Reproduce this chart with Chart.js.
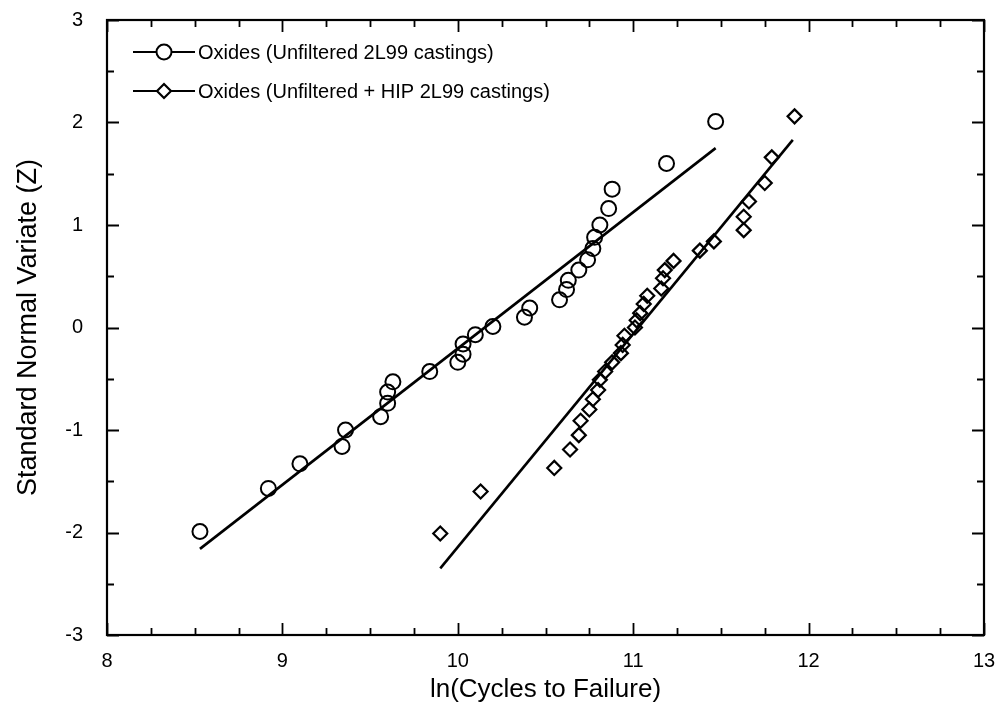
<!DOCTYPE html>
<html>
<head>
<meta charset="utf-8">
<script src="https://cdn.jsdelivr.net/npm/chart.js@4/dist/chart.umd.min.js"></script>
<style>
  html, body { margin: 0; padding: 0; background: #fff; }
  #wrap { width: 1005px; height: 713px; }
</style>
</head>
<body>
<div id="wrap"><canvas id="probChart" width="1005" height="713"></canvas></div>
<script>
// ─── Data ───
const unfilteredX = [8.53, 8.92, 9.10, 9.34, 9.36, 9.56, 9.60, 9.60, 9.63, 9.84, 10.00, 10.03, 10.03, 10.10, 10.20,
  10.38, 10.41, 10.58, 10.62, 10.63, 10.69, 10.74, 10.77, 10.78, 10.81, 10.86, 10.88, 11.19, 11.47];
const unfilteredZ = [-1.99, -1.57, -1.33, -1.16, -1.00, -0.87, -0.74, -0.63, -0.53, -0.43, -0.34, -0.26, -0.16, -0.07, 0.01,
  0.10, 0.19, 0.27, 0.37, 0.46, 0.56, 0.66, 0.77, 0.88, 1.00, 1.16, 1.35, 1.60, 2.01];

const hipX = [9.90, 10.13, 10.55, 10.64, 10.69, 10.70, 10.75, 10.77, 10.80, 10.81, 10.84, 10.88, 10.93, 10.94, 10.95,
  11.01, 11.02, 11.04, 11.06, 11.08, 11.16, 11.17, 11.18, 11.23, 11.38, 11.46, 11.63, 11.63, 11.66, 11.75, 11.79, 11.92];
const hipZ = [-2.01, -1.60, -1.37, -1.19, -1.05, -0.91, -0.80, -0.70, -0.61, -0.51, -0.43, -0.34, -0.25, -0.17, -0.08,
  0.00, 0.07, 0.14, 0.23, 0.31, 0.38, 0.48, 0.56, 0.65, 0.75, 0.84, 0.95, 1.08, 1.23, 1.41, 1.66, 2.06];

// fitted lines (end points)
const unfilteredFitX = [8.53, 11.47];
const unfilteredFitZ = [-2.16, 1.75];
const hipFitX = [9.90, 11.91];
const hipFitZ = [-2.35, 1.83];

const xTicks = [8, 9, 10, 11, 12, 13];
const zTicks = [-3, -2, -1, 0, 1, 2, 3];

const seriesLabels = ['Oxides (Unfiltered 2L99 castings)', 'Oxides (Unfiltered + HIP 2L99 castings)'];

const FONT = '"Liberation Sans", Arial, Helvetica, sans-serif';
const toPts = (xs, ys) => xs.map((x, i) => ({ x: x, y: ys[i] }));

// ─── Inward ticks on all four sides + frame + legend ───
const framePlugin = {
    id: 'frame',
    afterDraw(chart) {
        const { ctx, chartArea: a, scales: { x, y } } = chart;
        ctx.save();
        ctx.strokeStyle = '#000';
        ctx.lineWidth = 2.2;
        ctx.strokeRect(a.left, a.top, a.right - a.left, a.bottom - a.top);

        ctx.lineWidth = 1.8;
        ctx.beginPath();
        for (let v = xTicks[0]; v <= xTicks[xTicks.length - 1] + 1e-9; v += 0.25) {
            const px = Math.round(x.getPixelForValue(v)) + 0.5;
            const len = Math.abs(v - Math.round(v)) < 1e-9 ? 12 : 7;
            ctx.moveTo(px, a.bottom); ctx.lineTo(px, a.bottom - len);
            ctx.moveTo(px, a.top); ctx.lineTo(px, a.top + len);
        }
        for (let v = zTicks[0]; v <= zTicks[zTicks.length - 1] + 1e-9; v += 0.5) {
            const py = Math.round(y.getPixelForValue(v)) + 0.5;
            const len = Math.abs(v - Math.round(v)) < 1e-9 ? 12 : 7;
            ctx.moveTo(a.left, py); ctx.lineTo(a.left + len, py);
            ctx.moveTo(a.right, py); ctx.lineTo(a.right - len, py);
        }
        ctx.stroke();

        // legend
        const ds = chart.data.datasets;
        ctx.font = '20px ' + FONT;
        ctx.textBaseline = 'middle';
        [0, 1].forEach(i => {
            const ly = a.top + 32 + i * 39;
            const lx = a.left + 26;
            ctx.lineWidth = 2;
            ctx.beginPath();
            ctx.moveTo(lx, ly); ctx.lineTo(lx + 62, ly);
            ctx.stroke();
            ctx.fillStyle = '#fff';
            ctx.lineWidth = ds[i].borderWidth;
            Chart.helpers.drawPoint(ctx, {
                pointStyle: ds[i].pointStyle, radius: ds[i].pointRadius, rotation: 0, borderWidth: ds[i].borderWidth
            }, lx + 31, ly);
            ctx.fillStyle = '#000';
            ctx.fillText(seriesLabels[i], lx + 65, ly + 1);
        });
        ctx.restore();
    }
};

new Chart(document.getElementById('probChart'), {
    type: 'scatter',
    data: {
        datasets: [
            {
                label: seriesLabels[0],
                data: toPts(unfilteredX, unfilteredZ),
                pointStyle: 'circle',
                pointRadius: 7.5,
                borderWidth: 2,
                borderColor: '#000',
                backgroundColor: 'rgba(255,255,255,0)'
            },
            {
                label: seriesLabels[1],
                data: toPts(hipX, hipZ),
                pointStyle: 'rectRot',
                pointRadius: 7,
                borderWidth: 2.2,
                borderColor: '#000',
                backgroundColor: 'rgba(255,255,255,0)'
            },
            {
                label: 'fit1',
                data: toPts(unfilteredFitX, unfilteredFitZ),
                showLine: true,
                pointRadius: 0,
                borderColor: '#000',
                borderWidth: 2.6
            },
            {
                label: 'fit2',
                data: toPts(hipFitX, hipFitZ),
                showLine: true,
                pointRadius: 0,
                borderColor: '#000',
                borderWidth: 2.6
            }
        ]
    },
    options: {
        responsive: false,
        animation: false,
        devicePixelRatio: 1,
        layout: { padding: { top: 20, right: 21, left: 0, bottom: 0 } },
        plugins: { legend: { display: false }, tooltip: { enabled: false } },
        scales: {
            x: {
                type: 'linear',
                min: xTicks[0],
                max: xTicks[xTicks.length - 1],
                afterBuildTicks: s => { s.ticks = xTicks.map(v => ({ value: v })); },
                afterFit: s => { s.height = 78; s.paddingLeft = 0; s.paddingRight = 0; },
                grid: { display: false, drawTicks: false },
                border: { display: false },
                ticks: { color: '#000', padding: 14, font: { family: FONT, size: 20 }, maxRotation: 0 },
                title: {
                    display: true,
                    text: 'ln(Cycles to Failure)',
                    color: '#000',
                    font: { family: FONT, size: 26 },
                    padding: { top: 0, bottom: 8 }
                }
            },
            y: {
                type: 'linear',
                min: zTicks[0],
                max: zTicks[zTicks.length - 1],
                afterBuildTicks: s => { s.ticks = zTicks.map(v => ({ value: v })); },
                afterFit: s => { s.width = 107; s.paddingTop = 0; s.paddingBottom = 0; },
                grid: { display: false, drawTicks: false },
                border: { display: false },
                ticks: { color: '#000', padding: 24, font: { family: FONT, size: 20 } },
                title: {
                    display: true,
                    text: 'Standard Normal Variate (Z)',
                    color: '#000',
                    font: { family: FONT, size: 27 },
                    padding: { top: 12, bottom: 0 }
                }
            }
        }
    },
    plugins: [framePlugin]
});
</script>
</body>
</html>
